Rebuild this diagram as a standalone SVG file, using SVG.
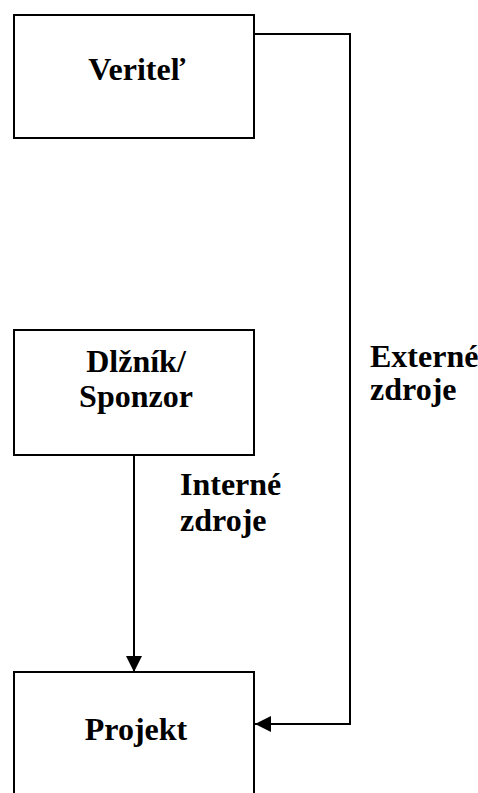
<svg xmlns="http://www.w3.org/2000/svg" width="478" height="793" viewBox="0 0 478 793">
  <style>
    .box { fill: #fff; stroke: #000; stroke-width: 2; }
    .edge { fill: none; stroke: #000; stroke-width: 2; }
    .lbl { font-family: "Liberation Serif", "Times New Roman", serif; font-weight: bold; font-size: 32px; fill: #000; }
    .mid { text-anchor: middle; }
  </style>
  <defs>
    <marker id="arrow" viewBox="0 0 16 16" refX="16" refY="8" markerWidth="16" markerHeight="16" markerUnits="userSpaceOnUse" orient="auto">
      <path d="M0,0 L16,8 L0,16 Z" fill="#000"/>
    </marker>
  </defs>

  <rect width="478" height="793" fill="#fff"/>

  <g id="veritel">
    <rect class="box" x="14" y="15" width="240" height="123"/>
    <text class="lbl mid" x="137" y="80">Veriteľ</text>
  </g>

  <g id="dlznik">
    <rect class="box" x="14" y="330" width="240" height="125"/>
    <text class="lbl mid" x="136" y="372">Dlžník/</text>
    <text class="lbl mid" x="136" y="407">Sponzor</text>
  </g>

  <g id="projekt">
    <rect class="box" x="14" y="672" width="240" height="140"/>
    <text class="lbl mid" x="136" y="740">Projekt</text>
  </g>

  <g id="connectors">
    <path class="edge" d="M134,455 V672" marker-end="url(#arrow)"/>
    <path class="edge" d="M254,34 H350 V724 H255" marker-end="url(#arrow)"/>
  </g>

  <g id="labels">
    <text class="lbl" x="370" y="367">Externé</text>
    <text class="lbl" x="370" y="400">zdroje</text>
    <text class="lbl" x="180" y="495">Interné</text>
    <text class="lbl" x="180" y="531">zdroje</text>
  </g>
</svg>
